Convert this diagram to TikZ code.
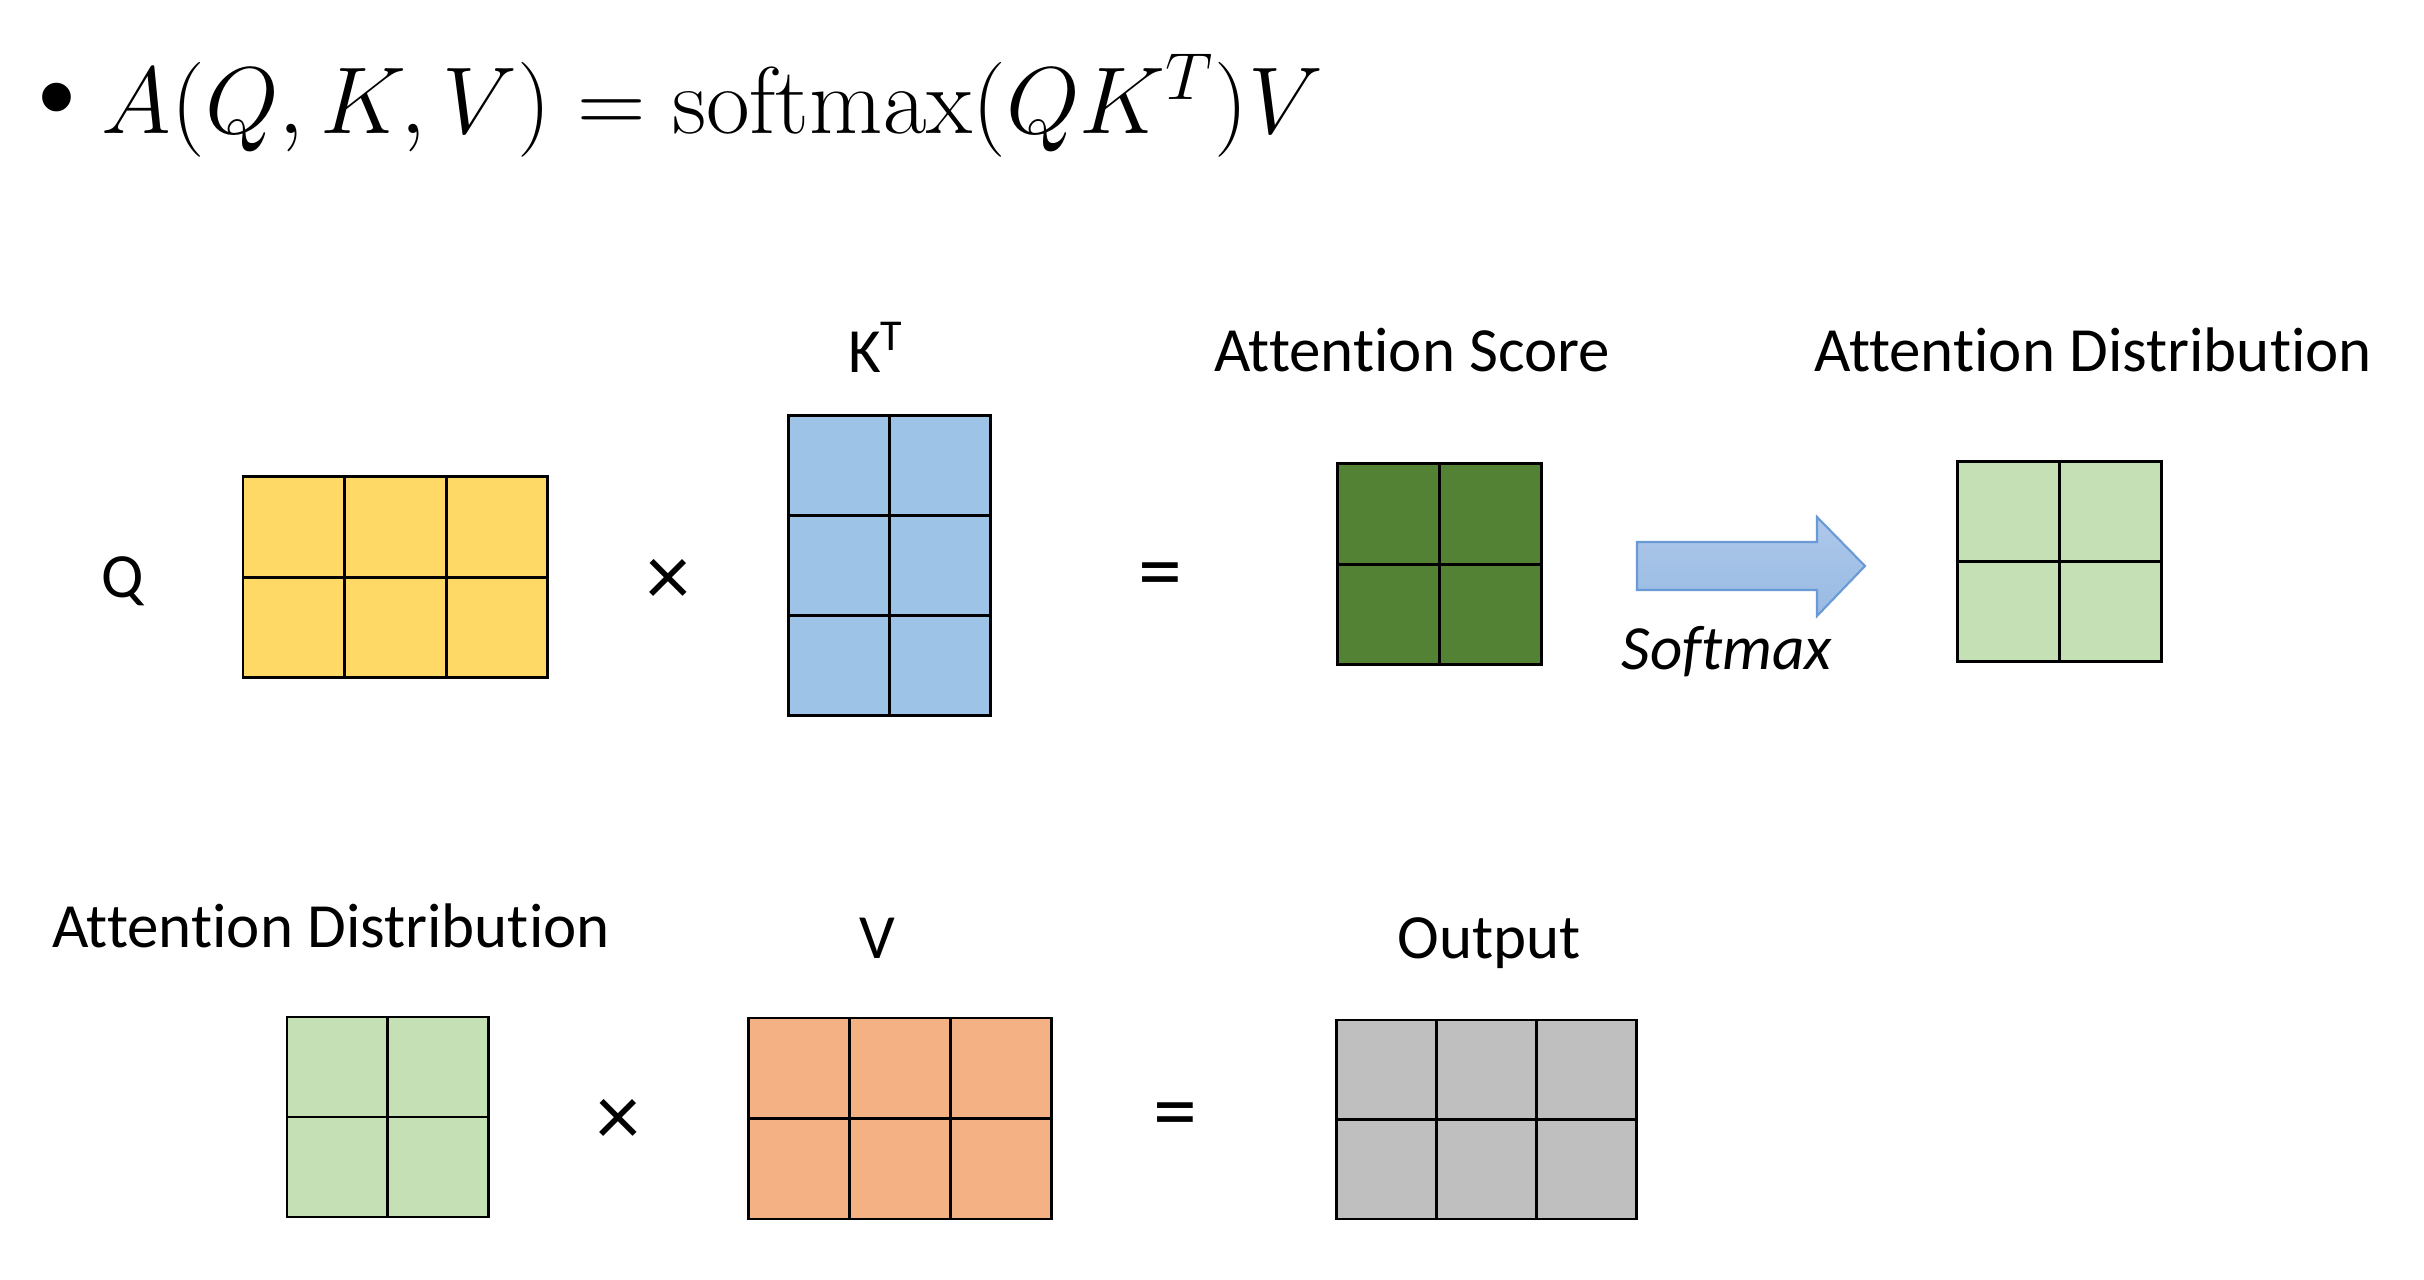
\RequirePackage{fix-cm}
\documentclass[tikz,border=0pt]{standalone}
\usepackage[no-math]{fontspec}
\setmainfont{Carlito}[Ligatures=NoCommon]
\newfontfamily\bulletfont{Liberation Sans}
\definecolor{cYellow}{HTML}{FFD966}
\definecolor{cBlue}{HTML}{9DC3E6}
\definecolor{cDark}{HTML}{548235}
\definecolor{cLight}{HTML}{C5E0B4}
\definecolor{cOrange}{HTML}{F4B183}
\definecolor{cGray}{HTML}{BFBFBF}
\definecolor{arrTop}{HTML}{AEC8EA}
\definecolor{arrBot}{HTML}{98BAE3}
\definecolor{arrLine}{HTML}{6A9AD6}
\newcommand{\drawmat}[8]{% name, x0, y0, cols, rows, cw, ch, color
  \node[matframe, anchor=north west, minimum width={#4*#6*0.01cm}, minimum height={#5*#7*0.01cm}] (#1) at (#2,#3) {};
  \foreach \ci in {1,...,#4}{\foreach \rj in {1,...,#5}{
    \draw[cellbox, fill=#8] ({#2+(\ci-1)*#6},{#3+(\rj-1)*#7}) rectangle ++(#6,#7);}}
}
\tikzset{
  matframe/.style={draw=none, inner sep=0pt, outer sep=0pt},
  cellbox/.style={draw=black, line width=0.85pt},
  lbl/.style={font=\fontsize{17.9}{20}\selectfont, inner sep=0pt, anchor=base},
  op/.style={font=\fontsize{25}{28}\selectfont, inner sep=0pt, anchor=center},
}
\begin{document}
\begin{tikzpicture}[x=0.01cm, y=-0.01cm]
\useasboundingbox (0,0) rectangle (2424,1280);
% title
\node[inner sep=0pt, anchor=center, font=\bulletfont\fontsize{30}{32}\selectfont] (bul) at (57,108) {•};
\node[inner sep=0pt, anchor=base west, font=\fontsize{27}{30}\selectfont] (title) at (101,134) {$A(Q,K,V) = \mathrm{softmax}(QK^T)V$};
% row 1
\node[lbl] (lq) at (123,598) {Q};
\drawmat{Q}{243}{477}{3}{2}{101.5}{100.5}{cYellow}
\node[op] (x1) at (668,582) {×};
\node[lbl] (lk) at (876,373) {K\textsuperscript{T}};
\drawmat{KT}{788}{416}{2}{3}{101}{100}{cBlue}
\node[op] (e1) at (1160,582) {=};
\node[lbl] (ls) at (1412,372) {Attention Score};
\drawmat{S}{1337}{464}{2}{2}{102}{100.5}{cDark}
\shade[top color=arrTop, bottom color=arrBot, draw=arrLine, line width=0.6pt]
  (1637,542) -- (1817,542) -- (1817,517) -- (1865,566) -- (1817,616) -- (1817,590) -- (1637,590) -- cycle;
\node[lbl, font=\itshape\fontsize{17.9}{20}\selectfont] (lsm) at (1727,670) {Softmax};
\node[lbl] (ld1) at (2093,372) {Attention Distribution};
\drawmat{D1}{1957}{462}{2}{2}{102}{100}{cLight}
% row 2
\node[lbl] (ld2) at (331,948) {Attention Distribution};
\drawmat{D2}{287}{1017}{2}{2}{100.5}{100}{cLight}
\node[op] (x2) at (618,1122) {×};
\node[lbl] (lv) at (877,959) {V};
\drawmat{V}{748}{1018}{3}{2}{101.3}{100.5}{cOrange}
\node[op] (e2) at (1175,1122) {=};
\node[lbl] (lo) at (1489,959) {Output};
\drawmat{O}{1336}{1020}{3}{2}{100}{99.5}{cGray}
\end{tikzpicture}
\end{document}
